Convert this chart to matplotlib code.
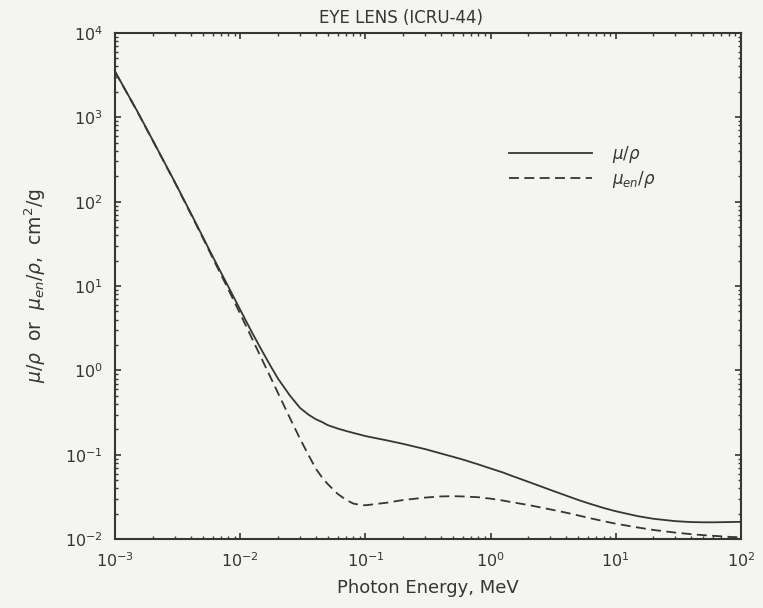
import numpy as np
import matplotlib
matplotlib.use('Agg')
import matplotlib.pyplot as plt

# Photon energy (MeV)
energy = [1e-3, 1.5e-3, 2e-3, 3e-3, 4e-3, 5e-3, 6e-3, 8e-3, 1e-2, 1.25e-2,
          1.5e-2, 1.75e-2, 2e-2, 2.5e-2, 3e-2, 3.5e-2, 4e-2, 4.5e-2, 5e-2, 6e-2,
          7e-2, 8e-2, 9e-2, 0.1, 0.15, 0.2, 0.3, 0.4, 0.5, 0.6,
          0.8, 1.0, 1.25, 1.5, 2.0, 3.0, 4.0, 5.0, 6.0, 8.0,
          10.0, 15.0, 20.0, 30.0, 40.0, 50.0, 60.0, 80.0, 100.0]

# mass attenuation coefficient mu/rho (cm2/g)
mu_rho = [3450, 1180, 530, 170, 74, 38.5, 22.5, 9.9, 5.2, 2.75,
          1.68, 1.12, 0.80, 0.50, 0.36, 0.30, 0.265, 0.245, 0.225, 0.205,
          0.192, 0.182, 0.174, 0.167, 0.148, 0.135, 0.117, 0.104, 0.095, 0.088,
          0.077, 0.069, 0.062, 0.056, 0.048, 0.0385, 0.033, 0.0293, 0.0268, 0.0235,
          0.0215, 0.0188, 0.0175, 0.0164, 0.016, 0.0159, 0.0159, 0.016, 0.0161]

# mass energy-absorption coefficient mu_en/rho (cm2/g)
muen_rho = [3430, 1170, 525, 168, 72.5, 37.5, 21.6, 9.2, 4.65, 2.33,
            1.32, 0.82, 0.54, 0.27, 0.155, 0.10, 0.069, 0.054, 0.045, 0.0345,
            0.0293, 0.0265, 0.0256, 0.0253, 0.0272, 0.0292, 0.0312, 0.0322, 0.0324, 0.0322,
            0.0315, 0.0303, 0.0288, 0.0274, 0.0255, 0.0226, 0.0207, 0.0192, 0.018, 0.0164,
            0.0153, 0.0138, 0.0129, 0.012, 0.0115, 0.0112, 0.011, 0.0107, 0.0105]

x_ticks = [1e-3, 1e-2, 1e-1, 1e0, 1e1, 1e2]
y_ticks = [1e-2, 1e-1, 1e0, 1e1, 1e2, 1e3, 1e4]

ink = '#353535'
paper = '#f4f4f1'

plt.rcParams['font.family'] = ['DejaVu Sans']
plt.rcParams['mathtext.fontset'] = 'dejavusans'

fig = plt.figure(figsize=(7.63, 6.08), dpi=100, facecolor=paper)
ax = fig.add_axes([0.151, 0.113, 0.820, 0.833])
ax.set_facecolor(paper)

ax.plot(energy, mu_rho, color=ink, lw=1.3, label=r'$\mu/\rho$')
ax.plot(energy, muen_rho, color=ink, lw=1.3, dashes=(5.5, 3), label=r'$\mu_{en}/\rho$')

ax.set_xscale('log')
ax.set_yscale('log')
ax.set_xticks(x_ticks)
ax.set_yticks(y_ticks)
ax.set_xlim(1e-3, 1e2)
ax.set_ylim(1e-2, 1e4)

for s in ax.spines.values():
    s.set_color(ink)
    s.set_linewidth(1.5)

ax.tick_params(which='both', direction='in', top=True, right=True, colors=ink,
               labelcolor=ink, labelsize=11.5)
ax.tick_params(which='major', length=4, width=1.2, pad=9)
ax.tick_params(which='minor', length=2.5, width=1.0)
ax.xaxis.set_minor_locator(matplotlib.ticker.LogLocator(base=10, subs=np.arange(2, 10), numticks=20))
ax.yaxis.set_minor_locator(matplotlib.ticker.LogLocator(base=10, subs=np.arange(2, 10), numticks=20))
ax.xaxis.set_minor_formatter(matplotlib.ticker.NullFormatter())
ax.yaxis.set_minor_formatter(matplotlib.ticker.NullFormatter())

ax.set_title('EYE LENS (ICRU-44)', color=ink, fontsize=12, pad=7, x=0.457)
ax.set_xlabel('Photon Energy, MeV', color=ink, fontsize=13, labelpad=6)
ax.set_ylabel(r'$\mu/\rho$  or  $\mu_{en}/\rho$,  cm$^2$/g', color=ink, fontsize=13.5, labelpad=12)

leg = ax.legend(loc='center left', bbox_to_anchor=(0.605, 0.735), frameon=False,
                handlelength=5.0, handletextpad=1.2, labelspacing=0.25, fontsize=12)
for t in leg.get_texts():
    t.set_color(ink)

fig.savefig('out.png', dpi=100, facecolor=paper)
